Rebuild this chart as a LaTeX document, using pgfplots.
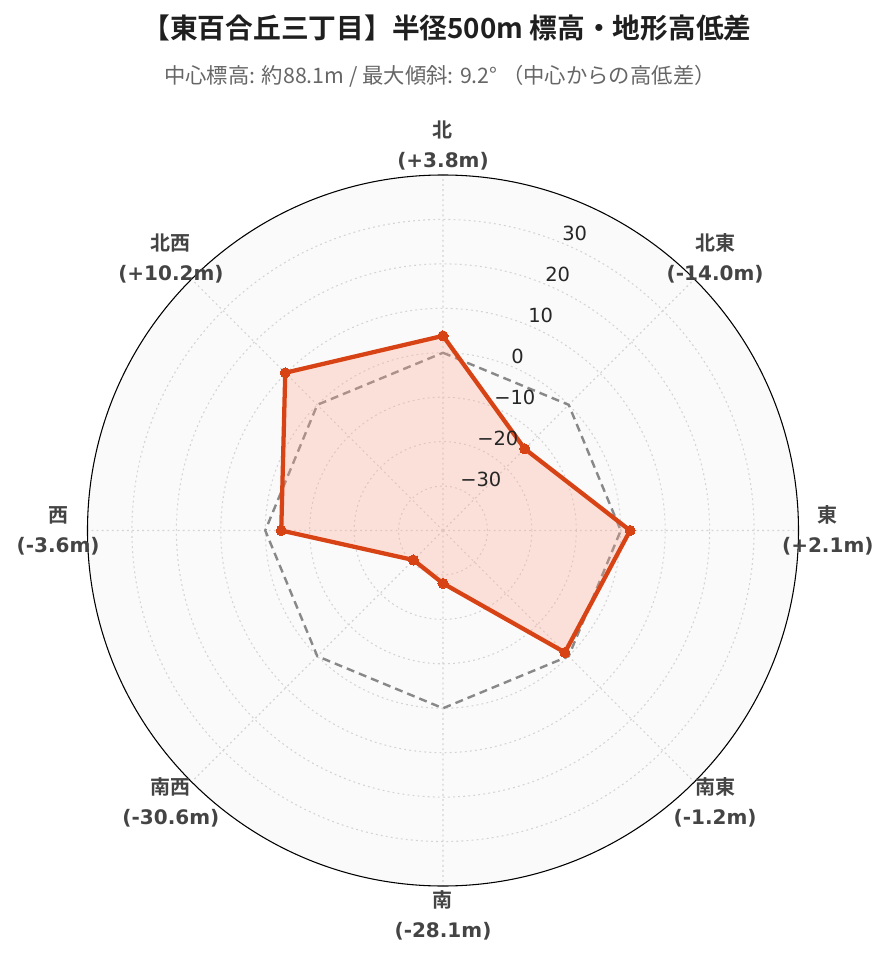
\documentclass[border=0pt]{standalone}
\usepackage{fontspec}
\usepackage{pgfplots}
\usepgfplotslibrary{polar}
\pgfplotsset{compat=1.18}
\setmainfont{DejaVu Sans}
\newfontfamily\cjk{Noto Sans CJK JP}[BoldFont={Noto Sans CJK JP Bold}]
\definecolor{linecol}{HTML}{D84315}
\definecolor{fillcol}{HTML}{FFA78F}
\definecolor{bgcol}{HTML}{FAFAFA}
\definecolor{gridcol}{HTML}{D4D4D4}
\definecolor{refcol}{HTML}{888888}
\definecolor{labcol}{HTML}{444444}
\definecolor{subcol}{HTML}{666666}

\begin{document}
\begin{tikzpicture}[
    lab/.style={align=center, font=\fontsize{15}{22.5}\selectfont\bfseries, text=labcol, inner sep=0pt},
    rlab/.style={anchor=base west, inner sep=0pt, yshift=2.2pt, font=\fontsize{14.6}{17}\selectfont, text=black!85},
]
% page: 889 x 962 px, 1px = 0.75pt, origin at the circle's centre
\path[use as bounding box] (-332.25pt,-323.625pt) rectangle (334.5pt,397.875pt);

\begin{polaraxis}[
    scale only axis,
    width=533.25pt, height=533.25pt,
    at={(0pt,0pt)}, anchor=center,
    xmin=0, xmax=360, ymin=0, ymax=80,
    xtick={0,45,...,315}, xticklabels={},
    ytick={10,20,...,70}, yticklabels={},
    major tick length=0pt,
    xmajorgrids, ymajorgrids,
    grid style={gridcol, line width=0.8pt, dash pattern=on 1.4pt off 2.4pt},
    axis line style={black, line width=0.8pt},
    y axis line style={draw=none},
    axis background/.style={fill=bgcol},
    y filter/.expression={y+40},
    clip=false,
]
% zero reference (dashed)
\addplot[refcol, line width=1.8pt, dash pattern=on 6pt off 3.8pt, line join=round]
    coordinates {(90,0) (45,0) (0,0) (-45,0) (-90,0) (-135,0) (-180,0) (-225,0) (-270,0)};

% relative elevation from centre
\addplot[linecol, line width=3.2pt, line join=round, fill=fillcol, fill opacity=0.3,
    mark=*, mark size=3.8pt, mark options={fill=linecol, fill opacity=1, line width=0pt}]
    coordinates {(90,3.8) (45,-14.0) (0,2.1) (-45,-1.2) (-90,-28.1) (-135,-30.6) (-180,-3.6) (-225,10.2) (-270,3.8)};

% radial tick labels
\node[rlab] at (axis cs:67.5,70) {30};
\node[rlab] at (axis cs:67.5,60) {20};
\node[rlab] at (axis cs:67.5,50) {10};
\node[rlab] at (axis cs:67.5,40) {0};
\node[rlab] at (axis cs:67.5,30) {−10};
\node[rlab] at (axis cs:67.5,20) {−20};
\node[rlab] at (axis cs:67.5,10) {−30};

% direction labels
\node[lab] at (axis cs:90,86.6) {{\cjk\bfseries 北}\\(+3.8m)};
\node[lab] at (axis cs:45,86.6) {{\cjk\bfseries 北東}\\(-14.0m)};
\node[lab] at (axis cs:0,86.6) {{\cjk\bfseries 東}\\(+2.1m)};
\node[lab] at (axis cs:315,86.6) {{\cjk\bfseries 南東}\\(-1.2m)};
\node[lab] at (axis cs:270,86.6) {{\cjk\bfseries 南}\\(-28.1m)};
\node[lab] at (axis cs:225,86.6) {{\cjk\bfseries 南西}\\(-30.6m)};
\node[lab] at (axis cs:180,86.6) {{\cjk\bfseries 西}\\(-3.6m)};
\node[lab] at (axis cs:135,86.6) {{\cjk\bfseries 北西}\\(+10.2m)};
\end{polaraxis}

\node[font=\cjk\bfseries\fontsize{20.8}{24}\selectfont, text=black!88] at (3pt,376.9pt)
    {【東百合丘三丁目】半径500m 標高・地形高低差};
\node[font=\cjk\fontsize{16}{19}\selectfont, text=subcol] at (-2.25pt,340.9pt)
    {中心標高: 約88.1m / 最大傾斜: 9.2° （中心からの高低差）};
\end{tikzpicture}
\end{document}
